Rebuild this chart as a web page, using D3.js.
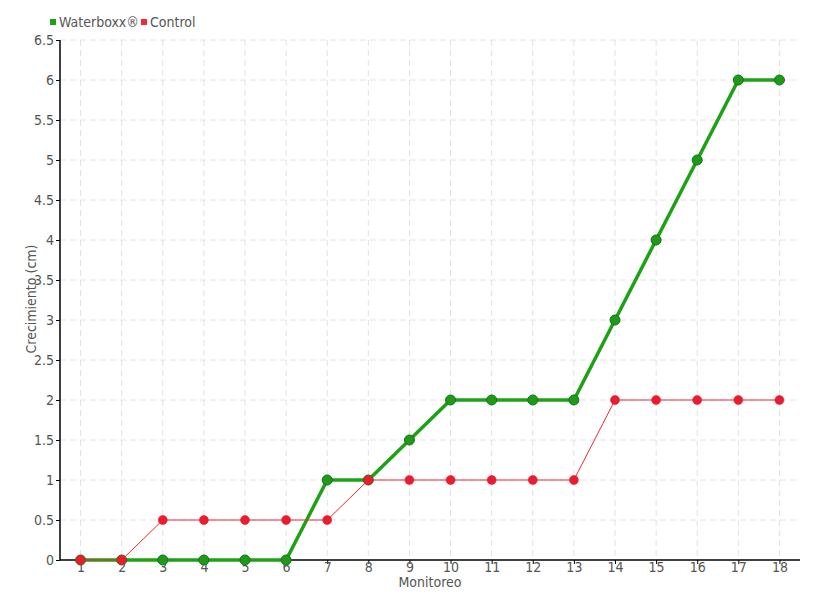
<!DOCTYPE html>
<html><head><meta charset="utf-8">
<script src="https://cdn.jsdelivr.net/npm/d3@7"></script>
<style>
body{margin:0;background:#fff;}
text{font-family:"DejaVu Sans Condensed","DejaVu Sans",sans-serif;font-stretch:condensed;fill:#555;}
</style></head>
<body><svg id="c" width="820" height="600"></svg>
<script>
const categories = ["1","2","3","4","5","6","7","8","9","10","11","12","13","14","15","16","17","18"];
const waterboxx = [0,0,0,0,0,0,1,1,1.5,2,2,2,2,3,4,5,6,6];
const control = [0,0,0.5,0.5,0.5,0.5,0.5,1,1,1,1,1,1,2,2,2,2,2];
const yTicks = [0,0.5,1,1.5,2,2.5,3,3.5,4,4.5,5,5.5,6,6.5];
const seriesNames = ["Waterboxx®","Control"];

const svg = d3.select("#c");
const L=60,R=800,T=40,B=560;
const x = d3.scalePoint().domain(categories).range([L,R]).padding(0.5);
const y = d3.scaleLinear().domain([0,6.5]).range([B,T]);

// grid
const g = svg.append("g");
g.selectAll(".hg").data(yTicks.filter(d=>d>0)).enter().append("line")
 .attr("x1",L).attr("x2",R).attr("y1",d=>y(d)).attr("y2",d=>y(d))
 .attr("stroke","#e2e2e2").attr("stroke-dasharray","6,4");
g.selectAll(".vg").data(categories).enter().append("line")
 .attr("x1",d=>x(d)).attr("x2",d=>x(d)).attr("y1",T).attr("y2",B)
 .attr("stroke","#e2e2e2").attr("stroke-dasharray","6,4");

// axes
const ya = svg.append("g").attr("transform",`translate(${L},0)`)
 .call(d3.axisLeft(y).tickValues(yTicks).tickSize(4).tickFormat(d3.format("")));
ya.select(".domain").attr("stroke","#000").attr("stroke-width",1.5).attr("d",`M0,${B}V${T}`);
ya.selectAll(".tick line").attr("stroke","#000");
ya.selectAll(".tick text").style("font-size","14px").attr("x",-6).attr("fill","#555");

const xa = svg.append("g").attr("transform",`translate(0,${B})`)
 .call(d3.axisBottom(x).tickSize(4));
xa.select(".domain").attr("stroke","#000").attr("stroke-width",1.5).attr("d",`M${L},0H${R}`);
xa.selectAll(".tick line").attr("stroke","#000");
xa.selectAll(".tick text").style("font-size","14px").attr("y",2).attr("fill","#555");

svg.append("text").attr("x",430).attr("y",587).attr("text-anchor","middle").style("font-size","14px").text("Monitoreo");
svg.append("text").attr("transform","translate(36,299) rotate(-90)").attr("text-anchor","middle").style("font-size","14px").text("Crecimiento (cm)");

// lines
const line = d3.line().x((d,i)=>x(categories[i])).y(d=>y(d));
svg.append("path").datum(waterboxx).attr("d",line).attr("fill","none").attr("stroke","#1ca214").attr("stroke-width",3.5);
svg.selectAll(".gp").data(waterboxx).enter().append("circle")
 .attr("cx",(d,i)=>x(categories[i])).attr("cy",d=>y(d)).attr("r",5)
 .attr("fill","#1f9a18").attr("stroke","#17731a").attr("stroke-width",1);
svg.append("path").datum(control).attr("d",line).attr("fill","none").attr("stroke","#f0283a").attr("stroke-width",1);
svg.selectAll(".rp").data(control).enter().append("circle")
 .attr("cx",(d,i)=>x(categories[i])).attr("cy",d=>y(d)).attr("r",4.5)
 .attr("fill","#ec1c2e").attr("stroke","#d31a2a").attr("stroke-width",0.5);

// legend
const colors=["#1ca214","#f0283a"];
const lx=[50,141];
seriesNames.forEach((n,i)=>{
  svg.append("rect").attr("x",lx[i]).attr("y",19).attr("width",6).attr("height",6).attr("fill",colors[i]);
  svg.append("text").attr("x",lx[i]+9).attr("y",27).style("font-size","14px").text(n);
});
</script></body></html>
